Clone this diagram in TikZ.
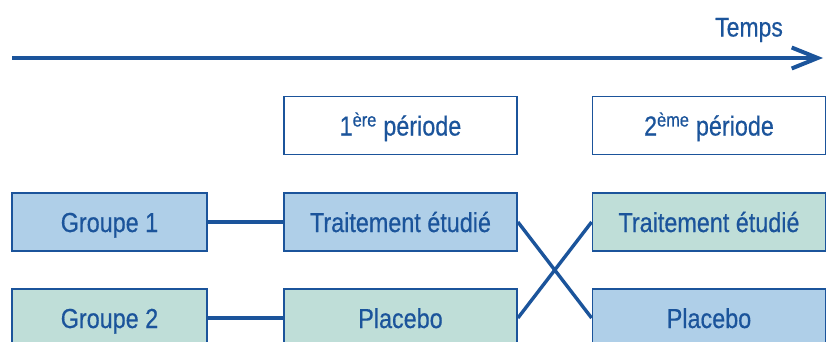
\documentclass[tikz,border=0pt]{standalone}
\usepackage{fontspec}
\setmainfont{Liberation Sans}[FakeStretch=0.85,FakeBold=0.5]
\usepackage{xcolor}
\usetikzlibrary{arrows.meta}

\definecolor{bleufonce}{RGB}{27,84,155}
\definecolor{bleuclair}{RGB}{175,207,232}
\definecolor{vertclair}{RGB}{191,222,216}

\begin{document}
\begin{tikzpicture}[x=1pt,y=-1pt,
    boite/.style={draw=bleufonce, line width=1.8pt, text=bleufonce, inner sep=0pt,
        minimum height=58pt, text height=20pt, text depth=0pt,
        font=\fontsize{27.5}{30}\selectfont},
    groupe/.style={boite, minimum width=195pt},
    bras/.style={boite, minimum width=233pt},
    lien/.style={draw=bleufonce, line width=3.4pt}]
    \useasboundingbox (0,0) rectangle (826,341);
    % axe du temps
    \coordinate (debut) at (12,58);
    \coordinate (fin) at (823,58);
    \draw[bleufonce, line width=4pt, -{Straight Barb[length=26pt,width=21pt]}] (debut) -- (fin);
    \node[text=bleufonce, anchor=base, font=\fontsize{27}{30}\selectfont] (temps) at (749,36.5) {Temps};
    % periodes
    \node[bras, fill=white] (per1) at (400.5,125.5) {1\textsuperscript{ère} période};
    \node[bras, fill=white] (per2) at (709,125.5) {2\textsuperscript{ème} période};
    % groupes
    \node[groupe, fill=bleuclair] (grp1) at (109.5,222) {Groupe 1};
    \node[groupe, fill=vertclair] (grp2) at (109.5,318) {Groupe 2};
    % traitements
    \node[bras, fill=bleuclair] (trt1) at (400.5,222) {Traitement étudié};
    \node[bras, fill=vertclair] (pla1) at (400.5,318) {Placebo};
    \node[bras, fill=vertclair] (trt2) at (709,222) {Traitement étudié};
    \node[bras, fill=bleuclair] (pla2) at (709,318) {Placebo};
    \draw[lien] (grp1.east) -- (trt1.west);
    \draw[lien] (grp2.east) -- (pla1.west);
    \draw[lien] (trt1.east) -- (pla2.west);
    \draw[lien] (pla1.east) -- (trt2.west);
\end{tikzpicture}
\end{document}
